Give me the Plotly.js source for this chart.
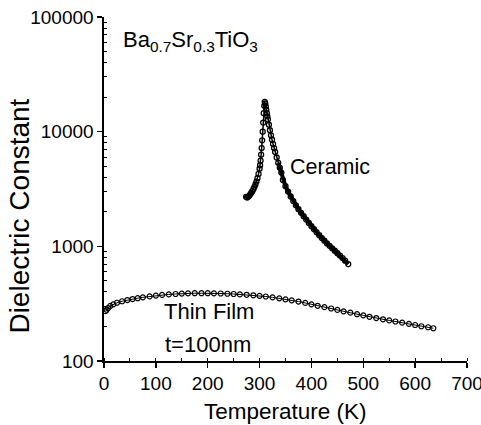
<!DOCTYPE html>
<html>
<head>
<meta charset="utf-8">
<script src="https://cdn.plot.ly/plotly-3.0.1.min.js"></script>
<style>html,body{margin:0;padding:0;background:#fff;}#chart{width:481px;height:425px;}</style>
</head>
<body>
<div id="chart"></div>
<script>
// Ceramic sample (bulk)
const ceramicT = [274,276,278,280,282,284,286,288,290,292,294,296,298,300,301,302,303,304,305,306,307,308,309,310,
  311,312,313,314,315,316,318,320,322,324,326,328,330,333,336,339,342,345,350,355,360,365,370,375,380,385,390,395,400,405,410,415,420,425,430,435,440,445,450,455,460,465,471];
const ceramicEps = [2700,2660,2700,2760,2840,2930,3030,3150,3290,3460,3670,3930,4280,4750,5100,5600,6300,7200,8400,10000,12000,14500,16800,18200,
  17600,16600,15500,14500,13600,12800,11500,10300,9300,8500,7800,7200,6650,5950,5350,4850,4400,3790,3350,3000,2720,2480,2280,2110,1960,1830,1710,1600,1500,1410,1330,1250,1180,1120,1060,1010,960,915,870,830,790,750,700];

// Thin film, t = 100 nm
const filmT = [3,5,8,12,18,25,35,45,55,65,75,88,100,112,125,138,150,162,175,188,200,212,225,238,250,262,275,288,300,312,325,338,350,362,375,388,400,412,425,438,450,462,475,488,500,512,525,538,550,562,575,588,600,612,625,635];
const filmEps = [272,280,290,302,312,322,332,340,347,353,359,366,372,377,381,384,387,389,390,390,390,389,388,386,384,381,378,374,370,365,359,352,345,338,330,321,312,303,295,287,279,271,264,256,250,243,237,231,226,221,216,211,206,201,197,193];

const xTickVals = [0,100,200,300,400,500,600,700];
const yTickVals = [100,1000,10000,100000];
const yTickText = ["100","1000","10000","100000"];

const minorLog = [];
for (let d = 100; d < 100000; d *= 10) for (let m = 2; m <= 9; m++) minorLog.push(d*m);

const FONT = "Liberation Sans, Arial, Helvetica, sans-serif";

// the densely sampled high-temperature tail of the ceramic curve prints as a solid heavy line
const denseIdx = ceramicT.map((t, i) => i).filter(i => ceramicT[i] >= 336);
const tailT = denseIdx.map(i => ceramicT[i]);
const tailEps = denseIdx.map(i => ceramicEps[i]);

const traces = [
  {x: tailT, y: tailEps, mode:'lines', line:{color:'#000', width:4}, hoverinfo:'skip', name:'Ceramic tail'},
  {x: ceramicT, y: ceramicEps, mode:'lines+markers', line:{color:'#000', width:1.5},
   marker:{symbol:'circle-open', size:5, color:'#000', line:{width:1.3, color:'#000'}}, name:'Ceramic'},
  {x: filmT, y: filmEps, mode:'lines+markers', line:{color:'#000', width:1},
   marker:{symbol:'circle-open', size:5, color:'#000', line:{width:1.2, color:'#000'}}, name:'Thin Film'}
];

const axisCommon = {showline:true, linecolor:'#000', linewidth:1.6, showgrid:false, zeroline:false};

const layout = {
  width:481, height:425,
  margin:{l:104, r:14, t:17, b:64},
  paper_bgcolor:'#fff', plot_bgcolor:'#fff',
  showlegend:false,
  font:{family:FONT, color:'#000', size:18},
  xaxis:Object.assign({
    range:[0,700], tickmode:'array', tickvals:xTickVals,
    ticks:'outside', ticklen:5, tickwidth:1.4, tickcolor:'#000',
    minor:{dtick:50, ticks:'inside', ticklen:3, tickwidth:1, tickcolor:'#000'},
    tickfont:{size:19, family:FONT}, ticklabeloverflow:'allow'
  }, axisCommon),
  yaxis:Object.assign({
    type:'log', range:[2,5], tickmode:'array', tickvals:yTickVals, ticktext:yTickText,
    ticks:'outside', ticklen:5, tickwidth:1.4, tickcolor:'#000',
    minor:{tickmode:'array', tickvals:minorLog, ticks:'inside', ticklen:3, tickwidth:1, tickcolor:'#000'},
    tickfont:{size:19, family:FONT}, ticklabeloverflow:'allow'
  }, axisCommon),
  xaxis2:Object.assign({
    overlaying:'x', anchor:'y', side:'top', range:[0,700], tickmode:'array', tickvals:xTickVals,
    ticks:'inside', ticklen:5, tickwidth:1.4, tickcolor:'#000', showticklabels:false,
    minor:{dtick:50, ticks:'inside', ticklen:3, tickwidth:1, tickcolor:'#000'}
  }, axisCommon),
  yaxis2:Object.assign({
    overlaying:'y', anchor:'x', side:'right', type:'log', range:[2,5], tickmode:'array', tickvals:yTickVals,
    ticks:'inside', ticklen:5, tickwidth:1.4, tickcolor:'#000', showticklabels:false,
    minor:{tickmode:'array', tickvals:minorLog, ticks:'inside', ticklen:3, tickwidth:1, tickcolor:'#000'}
  }, axisCommon),
  annotations:[
    // axis titles
    {xref:'paper', yref:'paper', x:0.5, y:-0.148, xanchor:'center', yanchor:'middle', showarrow:false,
     text:'Temperature (K)', font:{size:22.5, family:FONT}},
    {xref:'paper', yref:'paper', x:-0.234, y:0.42, xanchor:'center', yanchor:'middle', showarrow:false,
     textangle:-90, text:'Dielectric Constant', font:{size:28, family:FONT}},
    // labels
    {xref:'paper', yref:'paper', x:0.047, y:0.93, xanchor:'left', yanchor:'middle', showarrow:false,
     text:'Ba<sub>0.7</sub>Sr<sub>0.3</sub>TiO<sub>3</sub>', font:{size:22, family:FONT}},
    {xref:'x', yref:'paper', x:355, y:0.563, xanchor:'left', yanchor:'middle', showarrow:false,
     text:'Ceramic', font:{size:21.5, family:FONT}},
    {xref:'x', yref:'paper', x:111, y:0.143, xanchor:'left', yanchor:'middle', showarrow:false,
     text:'Thin Film', font:{size:22, family:FONT}},
    {xref:'x', yref:'paper', x:113, y:0.047, xanchor:'left', yanchor:'middle', showarrow:false,
     text:'t=100nm', font:{size:22, family:FONT}}
  ]
};

Plotly.newPlot('chart', traces, layout, {staticPlot:true, displayModeBar:false});
</script>
</body>
</html>
